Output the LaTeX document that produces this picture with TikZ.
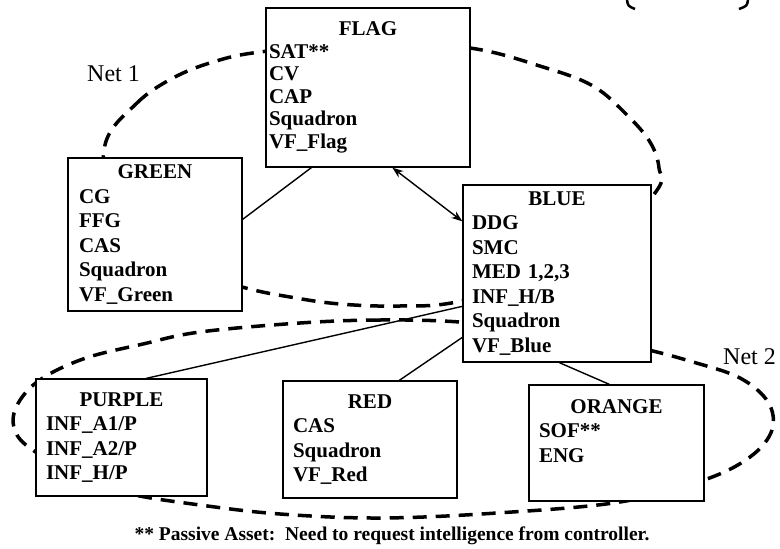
\documentclass[tikz,border=0pt]{standalone}
\usepackage{fontspec}
\setmainfont{Liberation Serif}
\usetikzlibrary{arrows.meta}
\setlength{\parindent}{0pt}
\begin{document}
\begin{tikzpicture}[x=1pt,y=-1pt,
  netline/.style={line width=3.5pt, dash pattern=on 14pt off 9pt},
  conn/.style={line width=1.4pt},
  twoway/.style={<->, >={Stealth[length=11pt,width=8pt]}},
  box/.style={draw, fill=white, line width=1.3pt, inner ysep=0pt, align=left,
    font=\bfseries\fontsize{21}{24.5}\selectfont},
  netlabel/.style={font=\fontsize{24}{28}\selectfont, inner sep=0pt, anchor=base west}
  ]
\useasboundingbox (0,0) rectangle (780,549);

% Net 1 dashed loop
\draw[netline] plot[smooth cycle, tension=0.6] coordinates {
  (105,145) (137,103) (173,78) (213,62) (260,52) (368,42) (470,48) (543,67)
  (593,86) (627,115) (650,142) (659,168) (655,193) (585,268) (462,301)
  (400,306) (340,304) (290,297) (242,287) (160,262) (112,215)};

% Net 2 dashed loop
\draw[netline] plot[smooth cycle, tension=0.6] coordinates {
  (460,322) (380,320) (300,323) (200,332) (143,344) (83,359) (37,382)
  (15,410) (17,435) (40,455) (80,478) (130,494) (200,505) (280,514)
  (380,518) (497,513) (620,502) (704,480) (750,457) (772,430) (768,402)
  (740,378) (693,362) (640,348) (560,332)};

% boxes
\node[box, text width=198pt, inner xsep=3pt, minimum height=159pt,
  font=\bfseries\fontsize{21}{22.5}\selectfont] (flag) at (368,87.5)
  {\hfill FLAG\hfill\null\\SAT**\\CV\\CAP\\Squadron\\VF\_Flag};
\node[box, text width=152pt, inner xsep=11pt, minimum height=153pt] (green) at (155,234.5)
  {\hfill GREEN\hfill\null\\CG\\FFG\\CAS\\Squadron\\VF\_Green};
\node[box, text width=170pt, inner xsep=9pt, minimum height=177pt] (blue) at (557,273.5)
  {\hfill BLUE\hfill\null\\DDG\\SMC\\MED 1,2,3\\INF\_H/B\\Squadron\\VF\_Blue};
\node[box, text width=151pt, inner xsep=10pt, minimum height=117pt] (purple) at (121.5,437.5)
  {\hfill PURPLE\hfill\null\\INF\_A1/P\\INF\_A2/P\\INF\_H/P};
\node[box, text width=154pt, inner xsep=10pt, minimum height=117pt] (red) at (370,439.5)
  {\hfill RED\hfill\null\\CAS\\Squadron\\VF\_Red};
\node[box, text width=155pt, inner xsep=10pt, minimum height=116pt] (orange) at (616.5,443)
  {\hfill ORANGE\hfill\null\\SOF**\\ENG\\~};

% connectors
\draw[conn] ([xshift=46pt]flag.south west) -- ([yshift=-62pt]green.north east);
\draw[conn, twoway] ([xshift=127pt]flag.south west) -- ([yshift=-37pt]blue.north west);
\draw[conn] ([yshift=-122pt]blue.north west) -- ([xshift=111pt]purple.north west);
\draw[conn] ([yshift=-153pt]blue.north west) -- ([xshift=117pt]red.north west);
\draw[conn] ([xshift=97pt]blue.south west) -- ([xshift=81pt]orange.north west);

% labels
\node[netlabel] (net1) at (87,81) {Net 1};
\node[netlabel] (net2) at (723,364) {Net 2};
\node[font=\bfseries\fontsize{19.5}{22}\selectfont, inner sep=0pt, anchor=base] (note)
  at (392,540.5) {** Passive Asset:\ \ Need to request intelligence from controller.};

% cropped parenthesis fragments at top right
\draw[line width=2.5pt] (627,0) .. controls (628,6) .. (635,9);
\draw[line width=2.5pt] (748,0) .. controls (747,6) .. (739,9);
\end{tikzpicture}
\end{document}
